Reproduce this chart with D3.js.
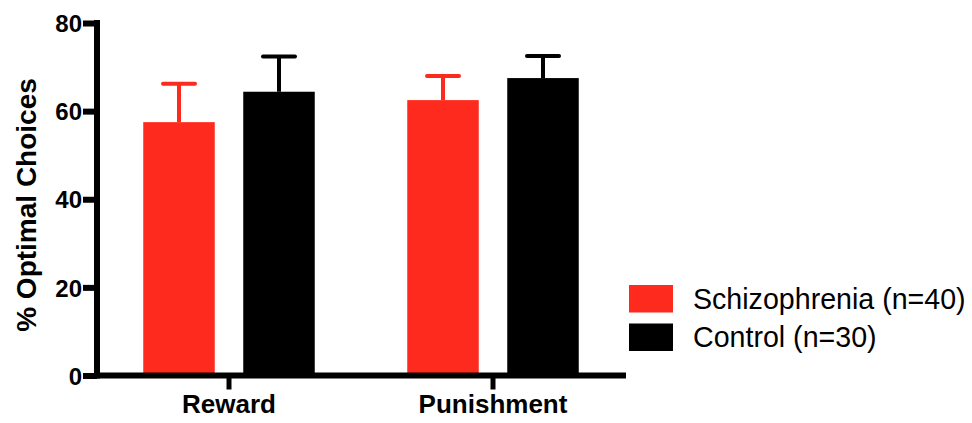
<!DOCTYPE html>
<html>
<head>
<meta charset="utf-8">
<script src="https://cdn.jsdelivr.net/npm/d3@7"></script>
<style>
  html, body { margin: 0; padding: 0; background: #fff; }
  svg { display: block; font-family: "Liberation Sans", Arial, sans-serif; }
</style>
</head>
<body>
<svg id="chart" width="972" height="423"></svg>
<script>
// Task conditions and groups
const categories = ["Reward", "Punishment"];
const groups = ["Schizophrenia (n=40)", "Control (n=30)"];
// Mean % optimal choices per group, one entry per condition
const schizophreniaMeans = [57.5, 62.5];
const controlMeans = [64.4, 67.5];
// Upper end of the error bars (mean + SEM)
const schizophreniaUpper = [66.2, 68.0];
const controlUpper = [72.4, 72.5];
const yTicks = [0, 20, 40, 60, 80];
const colors = ["#ff2a1e", "#000000"];

const series = [
  { name: groups[0], means: schizophreniaMeans, upper: schizophreniaUpper, color: colors[0] },
  { name: groups[1], means: controlMeans, upper: controlUpper, color: colors[1] }
];

const svg = d3.select("#chart");

const x0 = d3.scaleBand()
  .domain(categories)
  .range([97, 625])
  .paddingInner(0)
  .paddingOuter(0);

// Two bars per condition, 71.5px wide with a 28.5px gap
const groupWidth = 171.5;
const x1 = d3.scaleBand()
  .domain(groups)
  .range([0, groupWidth])
  .paddingInner(0.285)
  .paddingOuter(0);

const y = d3.scaleLinear().domain([0, 80]).range([375.5, 23]);

// Bars with upward error bars
const g = svg.append("g");
categories.forEach((cat, ci) => {
  const cx = x0(cat) + x0.bandwidth() / 2;
  const left = cx - groupWidth / 2;
  series.forEach(s => {
    const bx = left + x1(s.name);
    const bw = x1.bandwidth();
    const mid = bx + bw / 2;
    g.append("line")
      .attr("x1", mid).attr("x2", mid)
      .attr("y1", y(s.means[ci])).attr("y2", y(s.upper[ci]))
      .attr("stroke", s.color).attr("stroke-width", 4);
    g.append("line")
      .attr("x1", mid - 16).attr("x2", mid + 16)
      .attr("y1", y(s.upper[ci])).attr("y2", y(s.upper[ci]))
      .attr("stroke", s.color).attr("stroke-width", 4)
      .attr("stroke-linecap", "round");
    g.append("rect")
      .attr("x", bx).attr("width", bw)
      .attr("y", y(s.means[ci]))
      .attr("height", y(0) - y(s.means[ci]))
      .attr("fill", s.color);
  });
});

// Y axis
const yAxis = d3.axisLeft(y).tickValues(yTicks).tickSize(14).tickPadding(1).tickSizeOuter(0);
const ya = svg.append("g").attr("transform", "translate(97,0)").call(yAxis);
ya.select(".domain").attr("stroke", "#000").attr("stroke-width", 6)
  .attr("d", `M0,${y(80) - 3}V${y(0) + 3}`);
ya.selectAll(".tick line").attr("stroke", "#000").attr("stroke-width", 6);
ya.selectAll(".tick text")
  .attr("fill", "#000")
  .style("font-size", "24px").style("font-weight", "bold")
  .attr("dy", "0.36em");

// X axis
const xAxis = d3.axisBottom(x0).tickSize(14).tickPadding(5).tickSizeOuter(0);
const xa = svg.append("g").attr("transform", `translate(0,${y(0)})`).call(xAxis);
xa.select(".domain").attr("stroke", "#000").attr("stroke-width", 6)
  .attr("d", `M94,0H626`);
xa.selectAll(".tick line").attr("stroke", "#000").attr("stroke-width", 5);
xa.selectAll(".tick text")
  .attr("fill", "#000")
  .attr("y", 0).attr("dy", 0)
  .attr("transform", "translate(0,37.5)")
  .style("font-size", "26px").style("font-weight", "bold");

// Y axis title
svg.append("text")
  .attr("transform", "translate(36,205) rotate(-90)")
  .attr("text-anchor", "middle")
  .style("font-size", "28px").style("font-weight", "bold")
  .text("% Optimal Choices");

// Legend
const legend = svg.append("g").attr("transform", "translate(629,285)");
series.forEach((s, i) => {
  const row = legend.append("g").attr("transform", `translate(0,${i * 38.5})`);
  row.append("rect").attr("width", 44).attr("height", 27.5).attr("fill", s.color);
  row.append("text")
    .attr("x", 64).attr("y", 23.5)
    .style("font-size", "28.6px")
    .text(s.name);
});
</script>
</body>
</html>
